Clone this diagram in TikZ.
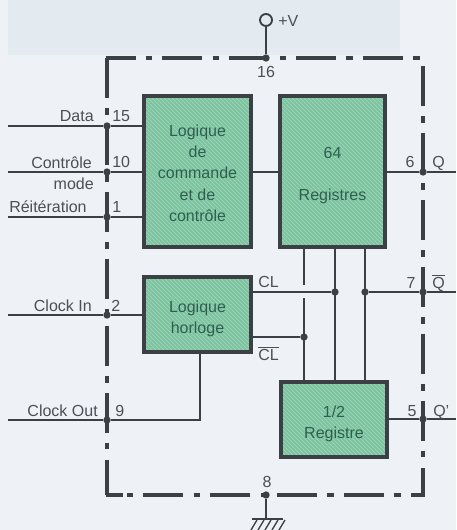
\documentclass[tikz,border=0pt]{standalone}
\usepackage{xcolor}
\usepackage{fontspec}
\setmainfont{Liberation Sans}
\usetikzlibrary{patterns}
\definecolor{paperbg}{HTML}{EEF1F5}
\definecolor{ghostbg}{HTML}{E4EBF0}
\definecolor{boxgreen}{HTML}{7CC4A0}
\definecolor{hatchgreen}{HTML}{A4D6BC}
\definecolor{linedark}{HTML}{3A4044}
\definecolor{textgrey}{HTML}{4A5058}
\definecolor{textgreen}{HTML}{2F5F4E}
\tikzset{
    block/.style={draw=linedark, line width=3pt, text=textgreen,
        preaction={fill=boxgreen},
        preaction={pattern=north west lines, pattern color=hatchgreen},
        align=center, inner sep=0pt, font=\fontsize{12}{16}\selectfont},
    wire/.style={draw=linedark, line width=1.4pt},
    label/.style={text=textgrey, inner sep=0pt, font=\fontsize{12}{14}\selectfont},
    pindot/.style={circle, fill=linedark, inner sep=0pt, minimum size=5.5pt},
    frameline/.style={draw=linedark, line width=3pt},
    framedash/.style={frameline, dash pattern=on 30pt off 7.6pt on 5pt off 7.6pt},
}
\begin{document}
\begin{tikzpicture}[x=0.75pt, y=-0.75pt]
    \useasboundingbox (0,0) rectangle (456,530);
    \fill[paperbg] (0,0) rectangle (456,530);
    \fill[ghostbg] (8,0) rectangle (400,55);

    % outer frame
    \draw[framedash, dash phase=7.5pt] (105.5,58) -- (421,58);
    \draw[framedash] (107,58) -- (107,495);
    \draw[framedash] (423,66) -- (423,495);
    \draw[framedash, dash phase=20pt] (424.5,495) -- (126,495);
    \draw[frameline] (105.5,495) -- (123,495);

    % blocks
    \node[block, minimum width=80pt, minimum height=113pt] (cmd) at (197.5,171.5)
        {\rule{0pt}{11pt}Logique\\de\\commande\\et de\\contrôle};
    \node[block, minimum width=79pt, minimum height=113pt] (reg) at (332.5,171.5)
        {\rule{0pt}{14pt}64\\[15.5pt]Registres};
    \node[block, minimum width=80pt, minimum height=56pt] (clk) at (197.5,314.5)
        {\rule{0pt}{15pt}Logique\\horloge};
    \node[block, minimum width=80pt, minimum height=56pt] (half) at (334,419.5)
        {\rule{0pt}{15pt}1/2\\Registre};

    % pin dots on the frame
    \node[pindot] (p15) at (107,126) {};
    \node[pindot] (p10) at (107,172) {};
    \node[pindot] (p1) at (107,217) {};
    \node[pindot] (p2) at (107,315) {};
    \node[pindot] (p9) at (107,420) {};
    \node[pindot] (p16) at (266,58) {};
    \node[pindot] (p6) at (423,172) {};
    \node[pindot] (p7) at (423,292) {};
    \node[pindot] (p5) at (423,419) {};
    \node[pindot] (p8) at (266,495) {};

    % free ends
    \coordinate (indata) at (8,126);
    \coordinate (inmode) at (8,172);
    \coordinate (inrei) at (8,217);
    \coordinate (inclk) at (8,315);
    \coordinate (outclk) at (8,420);
    \coordinate (outq) at (456,172);
    \coordinate (outqb) at (456,292);
    \coordinate (outqp) at (456,419);
    \coordinate (clkbend) at (200,420);
    \coordinate (hopa) at (304,285);
    \coordinate (hopb) at (304,298);

    % left pins
    \draw[wire] (indata) -- (p15) -- (p15 -| cmd.west);
    \draw[wire] (inmode) -- (p10) -- (p10 -| cmd.west);
    \draw[wire] (inrei) -- (p1) -- (p1 -| cmd.west);
    \draw[wire] (inclk) -- (p2) -- (p2 -| clk.west);
    \draw[wire] (outclk) -- (p9) -- (clkbend) -- (clkbend |- clk.south);

    % right pins
    \draw[wire] (p6 -| cmd.east) -- (p6 -| reg.west);
    \draw[wire] (p6 -| reg.east) -- (p6) -- (outq);
    \draw[wire] (p5 -| half.east) -- (p5) -- (outqp);

    % clock lines
    \node[pindot] (clA) at (335,292) {};
    \node[pindot] (clB) at (365,292) {};
    \node[pindot] (clC) at (304,337) {};
    \draw[wire] (clk.east |- clA) -- (clA);
    \draw[wire] (clB) -- (p7) -- (outqb);
    \draw[wire] (clk.east |- clC) -- (clC);
    \draw[wire] (hopa |- reg.south) -- (hopa);
    \draw[wire] (hopb) -- (hopb |- half.north);
    \draw[wire] (clA |- reg.south) -- (clA |- half.north);
    \draw[wire] (clB |- reg.south) -- (clB |- half.north);

    % supply and ground
    \node[circle, draw=linedark, line width=1.4pt, inner sep=0pt, minimum size=9pt] (vcc) at (266,20) {};
    \draw[wire] (vcc) -- (p16);
    \coordinate (gnd) at (266,519);
    \draw[wire] (p8) -- (gnd);
    \draw[wire] (252,519) -- (283,519);
    \foreach \hx in {257,264,271,278,285}
        \draw[draw=linedark, line width=1pt] (\hx,520) -- (\hx-6,530);

    % labels
    \node[label, anchor=base east] (tdata) at (94,122) {Data};
    \node[label, anchor=base east] (tmode) at (92,169) {Contrôle};
    \node[label, anchor=base east] (tmode2) at (94,190) {mode};
    \node[label, anchor=base west] (trei) at (9,213) {Réitération};
    \node[label, anchor=base east] (tclki) at (92,311) {Clock In};
    \node[label, anchor=base east] (tclko) at (98,416) {Clock Out};
    \node[label, anchor=base west] (n15) at (112,122) {15};
    \node[label, anchor=base west] (n10) at (112,168) {10};
    \node[label, anchor=base west] (n1) at (112,213) {1};
    \node[label, anchor=base west] (n2) at (111,311) {2};
    \node[label, anchor=base west] (n9) at (115,416) {9};
    \node[label, anchor=base] (n16) at (266,78) {16};
    \node[label, anchor=base west] (tv) at (278,27) {+V};
    \node[label, anchor=base] (n6) at (410,168) {6};
    \node[label, anchor=base] (n7) at (411,288) {7};
    \node[label, anchor=base] (n5) at (412,416) {5};
    \node[label, anchor=base] (n8) at (267,487) {8};
    \node[label, anchor=base west] (tq) at (432,168) {Q};
    \node[label, anchor=base west] (tqb) at (432,288) {$\overline{\mbox{Q}}$};
    \node[label, anchor=base west] (tqp) at (433,416) {Q'};
    \node[label, anchor=base west] (tcl) at (258,287) {CL};
    \node[label, anchor=base west] (tclb) at (258,360) {$\overline{\mbox{CL}}$};
\end{tikzpicture}
\end{document}
